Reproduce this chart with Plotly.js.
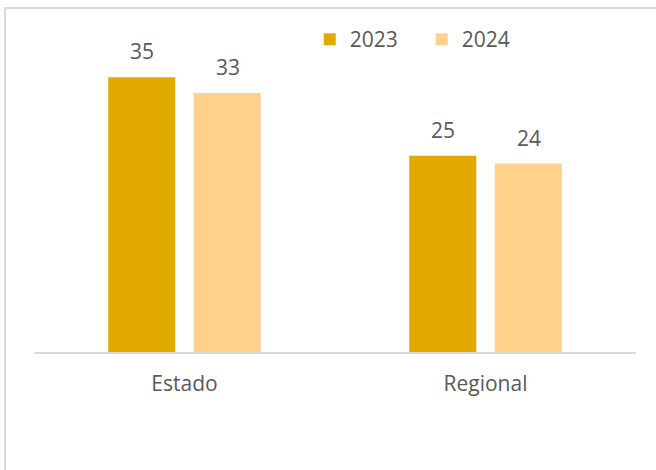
<!DOCTYPE html>
<html>
<head>
<meta charset="utf-8">
<script src="https://cdn.plot.ly/plotly-3.0.1.min.js"></script>
<style>
html,body{margin:0;padding:0;background:#fff;}
#wrap{position:relative;width:656px;height:470px;overflow:hidden;}
#chart{position:absolute;left:0;top:0;width:656px;height:470px;}
#frame{position:absolute;left:4px;top:7px;width:700px;height:500px;border-left:2px solid #d9d9d9;border-top:2px solid #d9d9d9;pointer-events:none;}
</style>
</head>
<body>
<div id="wrap"><div id="chart"></div><div id="frame"></div></div>
<script>
const categories = ["Estado", "Regional"];
const seriesNames = ["2023", "2024"];
const values2023 = [35, 25];
const values2024 = [33, 24];

const colors = ["#E2AA00", "#FFD18A"];
const FONT = "Open Sans, Noto Sans, sans-serif";
const TXT = "#595959";

const traces = [
  {type: "bar", name: seriesNames[0], x: categories, y: values2023, marker: {color: colors[0]}, hoverinfo: "none"},
  {type: "bar", name: seriesNames[1], x: categories, y: values2024, marker: {color: colors[1]}, hoverinfo: "none"}
];

const annotations = [];
[values2023, values2024].forEach((vals, s) => {
  vals.forEach((v, i) => {
    annotations.push({
      x: categories[i], y: v, xref: "x", yref: "y",
      text: String(v), showarrow: false,
      xshift: s === 0 ? -43 : 43, yshift: 10, yanchor: "bottom",
      font: {family: FONT, size: 21, color: TXT}
    });
  });
});

const layout = {
  width: 656, height: 470,
  margin: {l: 34, r: 20, t: 38, b: 118, pad: 0},
  paper_bgcolor: "#fff", plot_bgcolor: "#fff",
  barmode: "group", bargap: 0.432, bargroupgap: 0.216,
  showlegend: true,
  legend: {
    orientation: "h", x: 0.458, xanchor: "left", y: 0.995, yanchor: "middle",
    font: {family: FONT, size: 21, color: TXT},
    entrywidth: 67, entrywidthmode: "pixels",
    bgcolor: "rgba(0,0,0,0)"
  },
  xaxis: {
    type: "category", range: [-0.5, 1.5],
    showgrid: false, zeroline: false,
    showline: true, linecolor: "#d9d9d9", linewidth: 1.5,
    ticks: "", ticklabelstandoff: 12,
    tickfont: {family: FONT, size: 21, color: TXT}, fixedrange: true
  },
  yaxis: {range: [0, 40], visible: false, fixedrange: true},
  annotations: annotations
};

Plotly.newPlot("chart", traces, layout, {displayModeBar: false, staticPlot: true});
</script>
</body>
</html>
